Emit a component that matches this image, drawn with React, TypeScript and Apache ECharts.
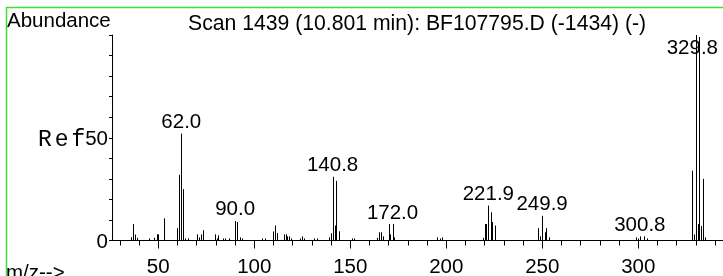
import React, { useEffect, useRef } from 'react';
import * as echarts from 'echarts';

// ---- data ----
const mzValues = [
  35.8, 37, 37.7, 39, 45.2, 47.8, 49.2, 50, 53.1, 59.6, 61, 62, 63, 64, 65.6,
  70, 71.3, 72.2, 73.4, 79.5, 80.5, 81.3, 83.6, 85, 87, 90, 91.2, 92.5, 93.6,
  103.9, 105.6, 109.6, 111, 111.7, 115.5, 116.5, 117.2, 118.2, 119.3, 123.8, 124.8,
  125.9, 131.1, 132.8, 139, 139.8, 140.8, 141.9, 142.8, 144, 151, 152, 163.7, 165,
  166, 166.8, 170, 170.8, 172, 173, 195.3, 196.5, 197.6, 219.3, 220, 220.8, 221.9,
  223.1, 223.8, 225.2, 248, 248.7, 249.9, 251.2, 251.9, 253.3, 298.6, 299.7, 300.8,
  302.9, 304.3, 328, 329.2, 329.8, 330.9, 331.8, 332.7, 333.7, 334.9,
];
const abundances = [
  1.6, 8, 2.9, 1.3, 1, 1.3, 3, 3, 10.8, 6, 32, 52, 25, 1, 1,
  3, 1.5, 3, 5, 3, 1, 2.5, 1, 1, 1, 9.5, 9, 1.5, 1,
  1, 1, 4.4, 7.3, 3.6, 3, 3, 2, 2, 1, 1, 2,
  1, 1, 1, 1.5, 3.5, 31, 7.3, 29, 4.5, 1, 1, 1.3, 4,
  4, 2, 8, 3, 8, 1.5, 1.5, 1, 1.5, 1.3, 8, 8, 17,
  13.7, 9, 7.3, 6, 2, 12, 4, 6, 1.5, 1.5, 1, 2,
  2, 1, 34, 3, 100, 8, 99, 7, 30, 1.5,
];
const labeledPeaks = [62.0, 90.0, 140.8, 172.0, 221.9, 249.9, 300.8, 329.8];
const xTickLabels = [50, 100, 150, 200, 250, 300];
const xMinorTicks = [30, 40, 60, 70, 80, 90, 110, 120, 130, 140, 160, 170, 180, 190, 210, 220, 230, 240, 260, 270, 280, 290, 310, 320, 330, 340];
const yTickLabels = [0, 50];
const titleText = 'Scan 1439 (10.801 min): BF107795.D (-1434) (-)';
const yAxisName = 'Abundance';
const xAxisName = 'm/z-->';
const refText = ['R', 'e', 'f'];

const FONT = '"Liberation Sans", Arial, sans-serif';
const LABEL_SIZE = 20.5;

let measureCtx: CanvasRenderingContext2D | null = null;
function textWidth(t: string, font: string) {
  if (!measureCtx) measureCtx = document.createElement('canvas').getContext('2d');
  if (!measureCtx) return t.length * 11;
  measureCtx.font = font;
  return measureCtx.measureText(t).width;
}

export default function App() {
  const ref = useRef<HTMLDivElement>(null);
  useEffect(() => {
    if (!ref.current) return;
    const chart = echarts.init(ref.current, null, { renderer: 'svg' });
    const peaks = mzValues.map((m, i) => [m, abundances[i]]);
    const labels = labeledPeaks.map((m) => {
      let best = 0;
      mzValues.forEach((v, i) => {
        if (Math.abs(v - m) < Math.abs(mzValues[best] - m)) best = i;
      });
      return [m, abundances[best]];
    });
    const xMin = 25.9;
    const xMax = 344.1;
    const option: any = {
      animation: false,
      grid: { left: 112, right: 0, top: 35, bottom: 30 },
      xAxis: [
        {
          type: 'value', min: xMin, max: xMax,
          axisLine: { show: true, lineStyle: { color: '#000', width: 1 } },
          axisTick: { show: true, customValues: xTickLabels, length: 8, lineStyle: { color: '#000' } },
          axisLabel: { customValues: xTickLabels, margin: 14.5, color: '#000', fontSize: LABEL_SIZE, fontFamily: FONT },
          splitLine: { show: false },
        },
        {
          type: 'value', min: xMin, max: xMax, position: 'bottom',
          axisLine: { show: false },
          axisTick: { show: true, customValues: xMinorTicks, length: 5, lineStyle: { color: '#000' } },
          axisLabel: { show: false },
          splitLine: { show: false },
        },
      ],
      yAxis: {
        type: 'value', min: 0, max: 100, interval: 10,
        axisLine: { show: true, lineStyle: { color: '#000', width: 1 } },
        axisTick: { show: true, length: 3, lineStyle: { color: '#000' } },
        axisLabel: {
          margin: 4, color: '#000', fontSize: LABEL_SIZE, fontFamily: FONT,
          formatter: (v: number) => (yTickLabels.indexOf(v) >= 0 ? String(v) : ''),
        },
        splitLine: { show: false },
      },
      series: [
        {
          type: 'custom',
          data: labels,
          encode: { x: 0, y: 1 },
          renderItem: (params: any, api: any) => {
            const cs = params.coordSys;
            const p = api.coord([api.value(0), api.value(1)]);
            const text = Number(api.value(0)).toFixed(1);
            const w = textWidth(text, `${LABEL_SIZE}px ${FONT}`);
            const cx = Math.min(p[0], cs.x + cs.width - 5 - w / 2);
            const y = Math.max(p[1] - 2.5, cs.y + 22);
            return {
              type: 'text', x: cx, y,
              style: {
                text, fill: '#000', fontSize: LABEL_SIZE, fontFamily: FONT,
                align: 'center', verticalAlign: 'bottom',
                textAlign: 'center', textVerticalAlign: 'bottom',
              },
            };
          },
        },
        {
          type: 'custom',
          data: peaks,
          encode: { x: 0, y: 1 },
          renderItem: (params: any, api: any) => {
            const top = api.coord([api.value(0), api.value(1)]);
            const base = api.coord([api.value(0), 0]);
            const x = Math.round(top[0]) + 0.5;
            return {
              type: 'line',
              shape: { x1: x, y1: top[1], x2: x, y2: base[1] },
              style: { stroke: '#000', lineWidth: 1 },
            };
          },
        },
      ],
      graphic: [
        {
          type: 'line', silent: true,
          shape: { x1: 6, y1: 7.5, x2: 723, y2: 7.5 },
          style: { stroke: '#3de03d', lineWidth: 1.5 },
        },
        {
          type: 'line', silent: true,
          shape: { x1: 6.5, y1: 7, x2: 6.5, y2: 276 },
          style: { stroke: '#3de03d', lineWidth: 1.5 },
        },
        {
          type: 'text', x: 7, y: 9.3,
          style: { text: yAxisName, fill: '#000', fontSize: LABEL_SIZE, fontFamily: FONT, textAlign: 'left', textVerticalAlign: 'top', align: 'left', verticalAlign: 'top' },
        },
        {
          type: 'text', x: 188, y: 12.1,
          style: { text: titleText, fill: '#000', fontSize: 21.2, fontFamily: FONT, textAlign: 'left', textVerticalAlign: 'top', align: 'left', verticalAlign: 'top' },
        },
        {
          type: 'text', x: 6, y: 260.7,
          style: { text: xAxisName, fill: '#000', fontSize: LABEL_SIZE, fontFamily: FONT, textAlign: 'left', textVerticalAlign: 'top', align: 'left', verticalAlign: 'top' },
        },
        ...refText.map((ch, i) => ({
          type: 'text', x: 38 + i * 16.7, y: 128,
          style: { text: ch, fill: '#000', fontSize: 23, fontFamily: '"Liberation Mono", "Courier New", monospace', textAlign: 'left', textVerticalAlign: 'top', align: 'left', verticalAlign: 'top' },
        })),
      ],
    };
    chart.setOption(option);
    return () => chart.dispose();
  }, []);
  return <div ref={ref} style={{ position: 'fixed', left: 0, top: 0, width: 723, height: 276 }} />;
}
